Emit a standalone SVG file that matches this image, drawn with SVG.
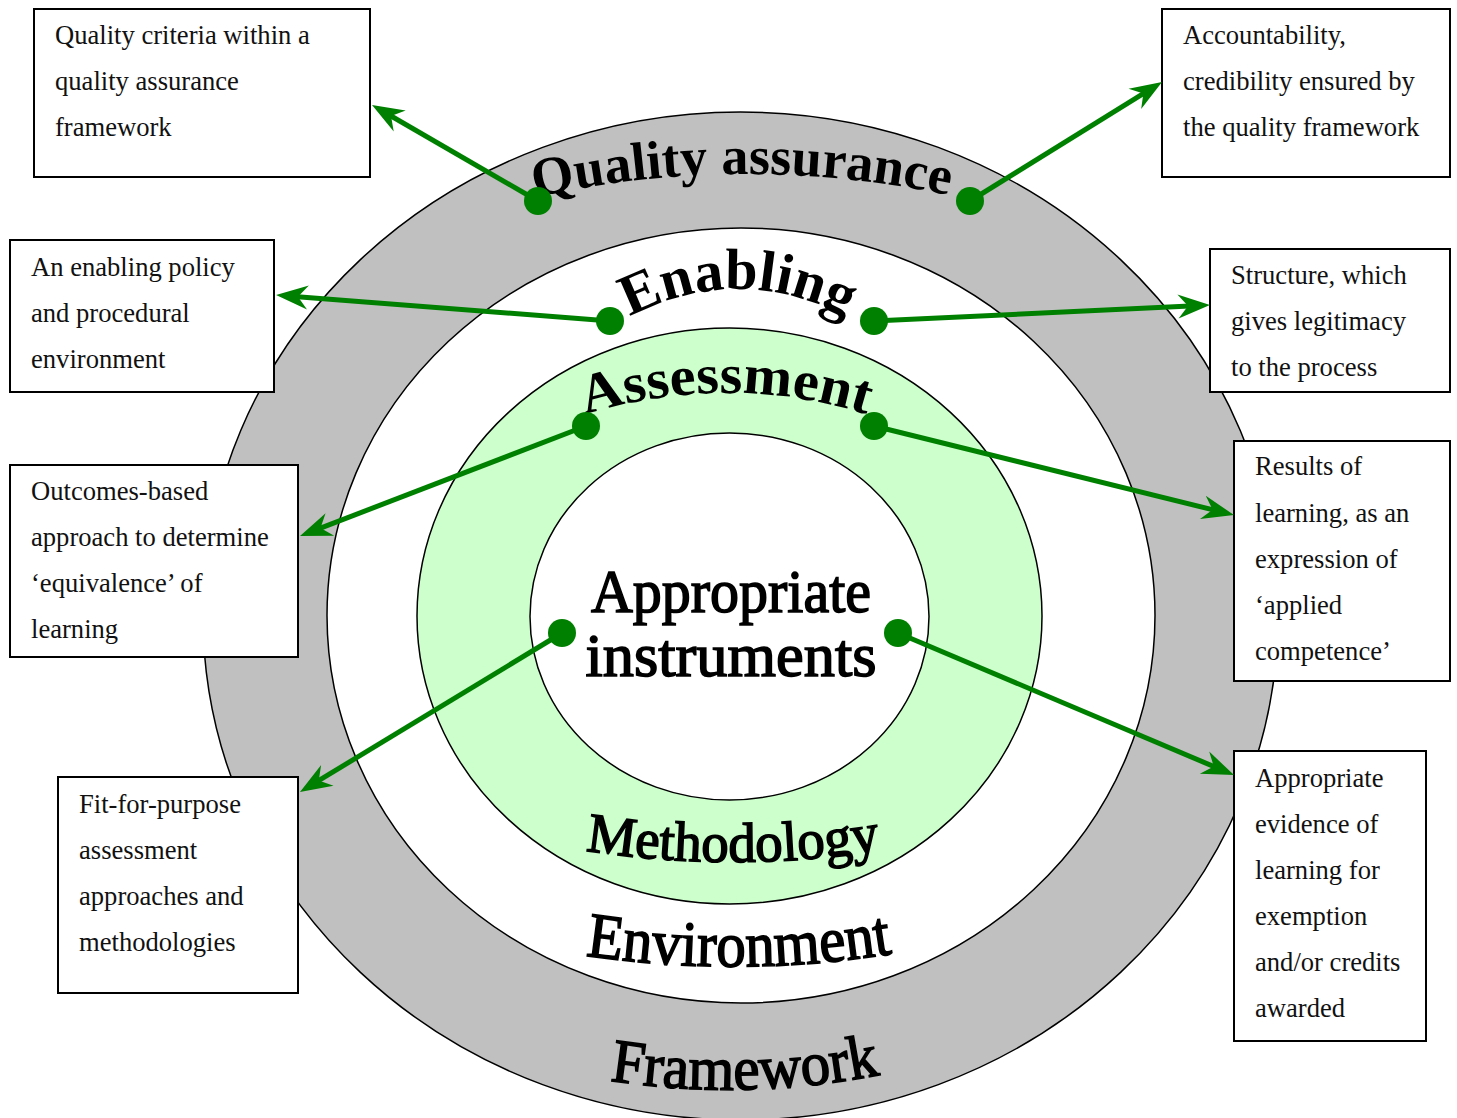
<svg xmlns="http://www.w3.org/2000/svg" width="1457" height="1118" viewBox="0 0 1457 1118">
<style>
.box{fill:#fff;stroke:#000;stroke-width:2}
.bt{font-family:"Liberation Serif",serif;font-size:26.6px;fill:#111}
.ring{stroke:#000;stroke-width:1.5}
.conn{stroke:#008000;stroke-width:5;fill:none;marker-end:url(#ah)}
.dot{fill:#008000}
.wa{font-family:"Liberation Serif",serif;font-weight:bold;fill:#000}
.wr{font-family:"Liberation Serif",serif;fill:#000;stroke:#000;stroke-width:1.6}
</style>
<defs>
<marker id="ah" markerUnits="userSpaceOnUse" viewBox="-20 -15 40 30" markerWidth="40" markerHeight="30" refX="0" refY="0" orient="auto" overflow="visible">
<path d="M15,0 L-17,-12 L-7,0 L-17,12 Z" fill="#008000"/>
</marker>
<path id="pQA" d="M 532,198 Q 741,151 952,196"/>
<path id="pEN" d="M 620,322 Q 738,256 856,322"/>
<path id="pAS" d="M 580,416 Q 728,370 872,416"/>
<path id="pME" d="M 582,850 Q 732,874 884,850"/>
<path id="pEV" d="M 582,955 Q 740,979 896,953"/>
<path id="pFR" d="M 606,1080 Q 745,1102 884,1074"/>
</defs>
<rect width="1457" height="1118" fill="#fff"/>
<g id="rings">
<ellipse class="ring" cx="740.5" cy="616" rx="537.5" ry="504" fill="#c0c0c0"/>
<ellipse class="ring" cx="741" cy="615.5" rx="414" ry="387.5" fill="#fff"/>
<ellipse class="ring" cx="729.5" cy="616" rx="312.5" ry="288" fill="#ccffcc"/>
<ellipse class="ring" cx="729.5" cy="616.5" rx="199.5" ry="183.5" fill="#fff"/>
</g>
<g id="ring-labels">
<text class="wa" font-size="54"><textPath href="#pQA" startOffset="50%" text-anchor="middle" textLength="417" lengthAdjust="spacingAndGlyphs">Quality assurance</textPath></text>
<text class="wa" font-size="58"><textPath href="#pEN" startOffset="50%" text-anchor="middle" textLength="226" lengthAdjust="spacingAndGlyphs">Enabling</textPath></text>
<text class="wa" font-size="56"><textPath href="#pAS" startOffset="50%" text-anchor="middle" textLength="286" lengthAdjust="spacingAndGlyphs">Assessment</textPath></text>
<text class="wr" font-size="56"><textPath href="#pME" startOffset="50%" text-anchor="middle" textLength="296" lengthAdjust="spacingAndGlyphs">Methodology</textPath></text>
<text class="wr" font-size="64"><textPath href="#pEV" startOffset="50%" text-anchor="middle" textLength="308" lengthAdjust="spacingAndGlyphs">Environment</textPath></text>
<text class="wr" font-size="62"><textPath href="#pFR" startOffset="50%" text-anchor="middle" textLength="272" lengthAdjust="spacingAndGlyphs">Framework</textPath></text>
</g>
<g id="center">
<text class="wr" font-size="62" x="731" y="612" text-anchor="middle" textLength="280" lengthAdjust="spacingAndGlyphs">Appropriate</text>
<text class="wr" font-size="62" x="731" y="676" text-anchor="middle" textLength="291" lengthAdjust="spacingAndGlyphs">instruments</text>
</g>
<g id="n1"><rect class="box" x="34" y="9" width="336" height="168"/>
<text class="bt"><tspan x="55" y="44">Quality criteria within a</tspan><tspan x="55" y="90">quality assurance</tspan><tspan x="55" y="136">framework</tspan></text></g>
<g id="n2"><rect class="box" x="1162" y="9" width="288" height="168"/>
<text class="bt"><tspan x="1183" y="44">Accountability,</tspan><tspan x="1183" y="90">credibility ensured by</tspan><tspan x="1183" y="136">the quality framework</tspan></text></g>
<g id="n3"><rect class="box" x="10" y="240" width="264" height="152"/>
<text class="bt"><tspan x="31" y="276">An enabling policy</tspan><tspan x="31" y="322">and procedural</tspan><tspan x="31" y="368">environment</tspan></text></g>
<g id="n4"><rect class="box" x="1210" y="249" width="240" height="143"/>
<text class="bt"><tspan x="1231" y="284">Structure, which</tspan><tspan x="1231" y="330">gives legitimacy</tspan><tspan x="1231" y="376">to the process</tspan></text></g>
<g id="n5"><rect class="box" x="10" y="465" width="288" height="192"/>
<text class="bt"><tspan x="31" y="500">Outcomes-based</tspan><tspan x="31" y="546">approach to determine</tspan><tspan x="31" y="592">‘equivalence’ of</tspan><tspan x="31" y="638">learning</tspan></text></g>
<g id="n6"><rect class="box" x="1234" y="441" width="216" height="240"/>
<text class="bt"><tspan x="1255" y="475">Results of</tspan><tspan x="1255" y="522">learning, as an</tspan><tspan x="1255" y="568">expression of</tspan><tspan x="1255" y="614">‘applied</tspan><tspan x="1255" y="660">competence’</tspan></text></g>
<g id="n7"><rect class="box" x="58" y="777" width="240" height="216"/>
<text class="bt"><tspan x="79" y="813">Fit-for-purpose</tspan><tspan x="79" y="859">assessment</tspan><tspan x="79" y="905">approaches and</tspan><tspan x="79" y="951">methodologies</tspan></text></g>
<g id="n8"><rect class="box" x="1234" y="751" width="192" height="290"/>
<text class="bt"><tspan x="1255" y="787">Appropriate</tspan><tspan x="1255" y="833">evidence of</tspan><tspan x="1255" y="879">learning for</tspan><tspan x="1255" y="925">exemption</tspan><tspan x="1255" y="971">and/or credits</tspan><tspan x="1255" y="1017">awarded</tspan></text></g>
<g id="connectors">
<path class="conn" d="M538,201 L385,112.5"/>
<path class="conn" d="M970,201 L1149.3,89.9"/>
<path class="conn" d="M610,321 L291,296.2"/>
<path class="conn" d="M874,321 L1195,305.7"/>
<path class="conn" d="M586,426 L314,530.6"/>
<path class="conn" d="M874,426 L1219.4,511.4"/>
<path class="conn" d="M562,633 L312.8,784.2"/>
<path class="conn" d="M898,633 L1220.2,769.2"/>
<circle class="dot" cx="538" cy="201" r="14"/>
<circle class="dot" cx="970" cy="201" r="14"/>
<circle class="dot" cx="610" cy="321" r="14"/>
<circle class="dot" cx="874" cy="321" r="14"/>
<circle class="dot" cx="586" cy="426" r="14"/>
<circle class="dot" cx="874" cy="426" r="14"/>
<circle class="dot" cx="562" cy="633" r="14"/>
<circle class="dot" cx="898" cy="633" r="14"/>
</g>
</svg>
